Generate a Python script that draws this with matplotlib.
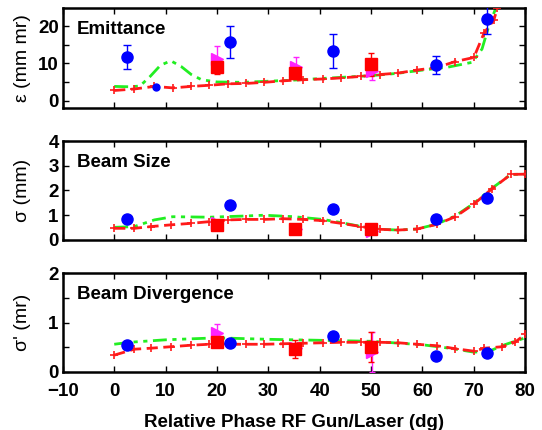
import matplotlib
matplotlib.use('Agg')
import matplotlib.pyplot as plt

plt.rcParams['font.family'] = ['Liberation Sans', 'DejaVu Sans']
plt.rcParams['font.weight'] = 'bold'
plt.rcParams['font.size'] = 13

# ---- emittance panel ----
emit_sim_x = [0, 3.9, 7.8, 11.4, 15, 18.5, 22.1, 25.7, 29.2, 32.8, 36.7, 40.6, 44.2,
              48.1, 51.7, 55.3, 58.9, 62.8, 66.4, 70, 72, 73.9, 74.6, 75.5]
emit_sim_y = [2.7, 3.1, 3.8, 3.4, 3.8, 4.1, 4.5, 4.6, 4.9, 5.3, 5.6, 5.8, 6.1,
              6.5, 7.0, 7.4, 8.2, 8.9, 10.5, 11.6, 18.2, 21.7, 25.0, 28.0]
emit_fit_x = [0, 3, 5, 7, 9, 11, 13, 15, 17, 20, 25, 30, 35, 40, 45, 50, 55, 60,
              65, 69.7, 71.6, 72.9, 74.2, 75.5]
emit_fit_y = [3.8, 3.7, 3.9, 6.5, 9.5, 10.7, 9.2, 7.0, 5.6, 5.0, 4.9, 5.2, 5.5, 5.9,
              6.3, 6.7, 7.3, 8.2, 9.0, 10.3, 13.9, 20.0, 24.6, 28.0]
emit_blue_x = [2.5, 22.6, 42.5, 62.6, 72.5]
emit_blue_y = [11.7, 15.7, 13.4, 9.6, 21.9]
emit_blue_err = [3.3, 4.3, 4.6, 2.5, 3.9]
emit_blue_small = (8.2, 3.6)
emit_sq_x = [20, 35.2, 50]
emit_sq_y = [9.1, 7.3, 9.8]
emit_sq_err = [2.0, 1.5, 3.1]
emit_tri_x = [20.1, 35.3, 50.2]
emit_tri_y = [11.1, 8.9, 8.0]
emit_tri_err = [3.5, 2.8, 2.4]

# ---- beam size panel ----
size_sim_x = [0, 3.9, 7.1, 11, 14.9, 18.5, 22.1, 25.7, 29.2, 32.8, 36.7, 40.6,
              44.2, 48.1, 51.7, 55.3, 58.9, 62.8, 66.4, 70, 73.6, 77.2, 80]
size_sim_y = [0.47, 0.47, 0.54, 0.61, 0.67, 0.74, 0.81, 0.83, 0.83, 0.86, 0.83,
              0.78, 0.67, 0.54, 0.43, 0.40, 0.44, 0.63, 0.94, 1.45, 2.08, 2.65, 2.66]
size_fit_x = [0, 3.9, 7.8, 11.4, 18.5, 25.7, 29.2, 35, 40.6, 44.2, 48.1, 51.7,
              55.3, 58.9, 62.8, 66.4, 70, 73.6, 77.2, 80]
size_fit_y = [0.51, 0.54, 0.81, 0.94, 0.92, 0.97, 1.0, 0.94, 0.83, 0.70, 0.54,
              0.43, 0.40, 0.44, 0.64, 0.97, 1.48, 2.1, 2.65, 2.66]
size_blue_x = [2.5, 22.6, 42.5, 62.6, 72.6]
size_blue_y = [0.85, 1.43, 1.27, 0.86, 1.68]
size_sq_x = [20, 35.2, 50]
size_sq_y = [0.61, 0.44, 0.44]
size_tri_x = [20.1, 35.3, 50.2]
size_tri_y = [0.70, 0.45, 0.38]

# ---- beam divergence panel ----
div_sim_x = [0, 3.9, 7.1, 11, 14.9, 18.5, 22.1, 25.7, 29.2, 32.8, 36.7, 40.6,
             44.2, 48.1, 51.7, 55.3, 58.9, 62.8, 66.4, 70, 72, 75.5, 78, 80]
div_sim_y = [0.34, 0.46, 0.48, 0.51, 0.54, 0.56, 0.56, 0.56, 0.56, 0.57, 0.58,
             0.59, 0.60, 0.60, 0.60, 0.59, 0.56, 0.53, 0.47, 0.42, 0.48, 0.51, 0.60, 0.76]
div_fit_x = [0, 3, 10, 20, 30, 40, 50, 60, 66, 70, 73, 76, 80]
div_fit_y = [0.56, 0.60, 0.65, 0.69, 0.66, 0.64, 0.62, 0.55, 0.47, 0.40, 0.42, 0.55, 0.69]
div_blue_x = [2.5, 22.6, 42.5, 62.6, 72.6]
div_blue_y = [0.55, 0.59, 0.73, 0.32, 0.38]
div_sq_x = [20, 35.2, 50]
div_sq_y = [0.60, 0.46, 0.51]
div_sq_err = [0.1, 0.18, 0.3]
div_tri_x = [20.1, 35.3, 50.2]
div_tri_y = [0.78, 0.48, 0.40]
div_tri_err = [0.18, 0.1, 0.4]

xticks = list(range(-10, 81, 10))

fig = plt.figure(figsize=(5.42, 4.30), dpi=100)
left, width = 0.116, 0.853
ax1 = fig.add_axes([left, 0.749, width, 0.233])
ax2 = fig.add_axes([left, 0.442, width, 0.230])
ax3 = fig.add_axes([left, 0.135, width, 0.230])

red_ls = (0, (4, 2))
green_ls = (0, (5, 2, 1.5, 2, 1.5, 2))


def draw(ax, sx, sy, fx, fy, bx, by, qx, qy, tx, ty, berr=None, qerr=None, terr=None):
    ax.plot(fx, fy, color='#22ee22', ls=green_ls, lw=2, zorder=2)
    ax.plot(sx, sy, color='#ff1a1a', ls=red_ls, lw=2, marker='+', ms=6, mew=1.2, zorder=3)
    ax.errorbar(tx, ty, yerr=terr, fmt='>', color='#ff22ff', ms=8, elinewidth=1,
                capsize=2, zorder=4)
    ax.errorbar(qx, qy, yerr=qerr, fmt='s', color='#ff0000', ms=8, elinewidth=1,
                capsize=2, zorder=4)
    ax.errorbar(bx, by, yerr=berr, fmt='o', color='#0000ff', ms=8, elinewidth=1,
                capsize=3, zorder=5)


draw(ax1, emit_sim_x, emit_sim_y, emit_fit_x, emit_fit_y, emit_blue_x, emit_blue_y,
     emit_sq_x, emit_sq_y, emit_tri_x, emit_tri_y, emit_blue_err, emit_sq_err, emit_tri_err)
ax1.plot([emit_blue_small[0]], [emit_blue_small[1]], 'o', color='#0000ff', ms=5, zorder=5)
draw(ax2, size_sim_x, size_sim_y, size_fit_x, size_fit_y, size_blue_x, size_blue_y,
     size_sq_x, size_sq_y, size_tri_x, size_tri_y)
draw(ax3, div_sim_x, div_sim_y, div_fit_x, div_fit_y, div_blue_x, div_blue_y,
     div_sq_x, div_sq_y, div_tri_x, div_tri_y, None, div_sq_err, div_tri_err)

ax1.set_ylim(-2, 25)
ax1.set_yticks([0, 5, 10, 15, 20])
ax1.set_yticklabels(['0', '', '10', '', '20'])
ax2.set_ylim(0, 4)
ax2.set_yticks([0, 1, 2, 3, 4])
ax3.set_ylim(0, 2)
ax3.set_yticks([0, 0.5, 1, 1.5, 2])
ax3.set_yticklabels(['0', '', '1', '', '2'])

titles = ['Emittance', 'Beam Size', 'Beam Divergence']
ylabels = ['\u03b5 (mm mr)', '\u03c3 (mm)', "\u03c3' (mr)"]
for ax, t, yl in zip([ax1, ax2, ax3], titles, ylabels):
    ax.set_xlim(-10, 80)
    ax.set_xticks(xticks)
    ax.tick_params(direction='in', top=True, right=True, length=4, width=1,
                   labelsize=13.5, pad=3)
    ax.tick_params(axis='x', pad=8)
    for s in ax.spines.values():
        s.set_linewidth(1.8)
    ax.text(0.03, 0.78, t, transform=ax.transAxes, fontsize=13.5, fontweight='bold',
            va='center')
    ax.set_ylabel(yl, fontsize=14, fontweight='normal')
    ax.yaxis.set_label_coords(-0.068, 0.5)
    for lab in ax.get_yticklabels():
        lab.set_fontweight('bold')

ax1.tick_params(labelbottom=False)
ax2.tick_params(labelbottom=False)
ax3.set_xticklabels(['\u221210'] + [str(v) for v in xticks[1:]])
ax3.set_xlabel('Relative Phase RF Gun/Laser (dg)', fontsize=13.5, fontweight='bold',
               labelpad=10)

fig.savefig('out.png', dpi=100)
